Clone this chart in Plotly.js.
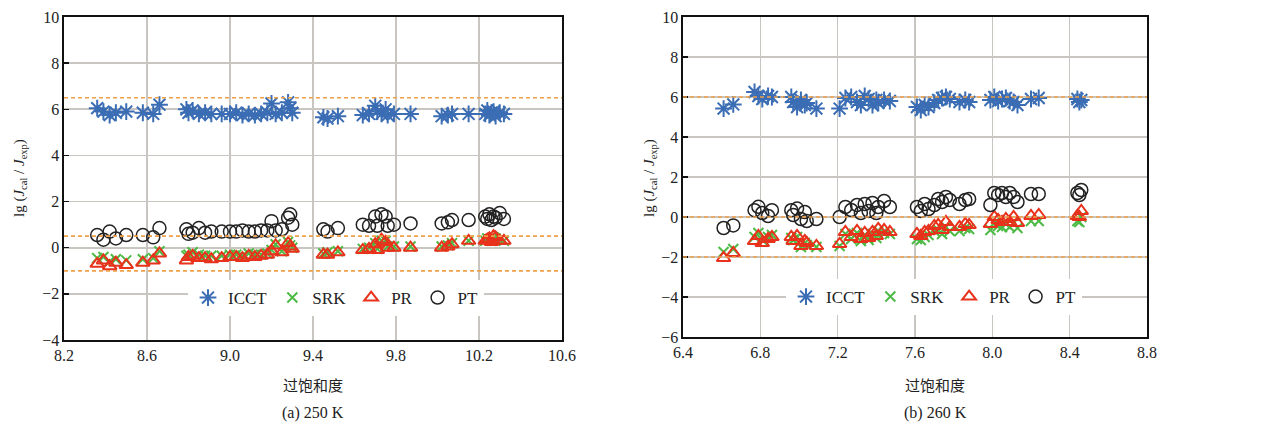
<!DOCTYPE html>
<html>
<head>
<meta charset="utf-8">
<script src="https://cdn.plot.ly/plotly-3.0.1.min.js"></script>
<style>
html,body{margin:0;padding:0;background:#fff;}
#chart{width:1271px;height:434px;}
</style>
</head>
<body>
<div id="chart"></div>
<script>
// ---------- data ----------
const seriesNames = ['ICCT', 'SRK', 'PR', 'PT'];

// (a) 250 K
const xA = [8.36, 8.39, 8.42, 8.45, 8.50, 8.58, 8.63, 8.66,
  8.79, 8.80, 8.82, 8.85, 8.88, 8.91, 8.96, 9.00, 9.03, 9.06, 9.09, 9.12, 9.15, 9.18, 9.20, 9.22, 9.25, 9.28, 9.29, 9.30,
  9.45, 9.47, 9.52,
  9.64, 9.67, 9.70, 9.71, 9.73, 9.75, 9.76, 9.79,
  9.87,
  10.02, 10.05, 10.07,
  10.15,
  10.23, 10.24, 10.25, 10.26, 10.27, 10.28, 10.30, 10.32];
const icctA = [6.05, 5.9, 5.75, 5.85, 5.9, 5.85, 5.8, 6.2,
  6.0, 5.85, 5.95, 5.8, 5.85, 5.8, 5.8, 5.8, 5.85, 5.75, 5.8, 5.75, 5.8, 5.85, 6.25, 5.8, 5.85, 6.3, 6.05, 5.85,
  5.65, 5.6, 5.7,
  5.75, 5.8, 6.15, 5.9, 5.8, 6.0, 5.75, 5.8,
  5.8,
  5.7, 5.75, 5.8,
  5.8,
  5.8, 5.95, 5.75, 5.85, 5.9, 5.7, 5.85, 5.8];
const srkA = [-0.45, -0.4, -0.6, -0.5, -0.55, -0.5, -0.45, -0.15,
  -0.35, -0.3, -0.2, -0.3, -0.35, -0.35, -0.35, -0.3, -0.3, -0.35, -0.25, -0.3, -0.3, -0.25, -0.1, 0.15, -0.15, 0.25, 0.1, 0.0,
  -0.25, -0.2, -0.15,
  -0.05, 0.0, 0.2, -0.05, 0.3, 0.3, 0.05, 0.05,
  0.05,
  0.05, 0.1, 0.2,
  0.3,
  0.3, 0.4, 0.35, 0.3, 0.45, 0.4, 0.35, 0.3];
const prA = [-0.7, -0.55, -0.8, -0.65, -0.75, -0.65, -0.55, -0.25,
  -0.55, -0.4, -0.35, -0.45, -0.45, -0.5, -0.45, -0.4, -0.4, -0.45, -0.35, -0.4, -0.35, -0.3, -0.15, 0.1, -0.2, 0.2, 0.05, -0.05,
  -0.3, -0.3, -0.2,
  -0.1, -0.05, 0.15, -0.1, 0.35, 0.25, 0.0, 0.0,
  0.0,
  0.0, 0.05, 0.15,
  0.3,
  0.3, 0.35, 0.4, 0.25, 0.5, 0.45, 0.3, 0.3];
const ptA = [0.55, 0.35, 0.7, 0.4, 0.55, 0.55, 0.45, 0.85,
  0.8, 0.6, 0.65, 0.85, 0.65, 0.7, 0.7, 0.7, 0.7, 0.75, 0.7, 0.7, 0.75, 0.75, 1.15, 0.75, 0.8, 1.3, 1.45, 1.0,
  0.8, 0.7, 0.85,
  1.0, 0.95, 1.35, 0.95, 1.45, 1.35, 0.95, 1.0,
  1.05,
  1.05, 1.1, 1.2,
  1.2,
  1.35, 1.25, 1.45, 1.2, 1.35, 1.3, 1.5, 1.25];
const refLinesA = [6.5, 0.5, -1.0];

// (b) 260 K
const xB = [6.61, 6.66,
  6.77, 6.79, 6.81, 6.84, 6.86,
  6.96, 6.97, 6.99, 7.01, 7.03, 7.04, 7.09,
  7.21, 7.24, 7.27, 7.30, 7.32, 7.34, 7.36, 7.38, 7.40, 7.41, 7.44, 7.47,
  7.61, 7.63, 7.65, 7.67, 7.70, 7.72, 7.74, 7.76, 7.78,
  7.83, 7.86, 7.88,
  7.99, 8.01, 8.03, 8.05, 8.07, 8.09, 8.11, 8.13,
  8.20, 8.24,
  8.44, 8.45, 8.46];
const icctB = [5.42, 5.63,
  6.25, 6.05, 5.9, 6.05, 6.0,
  6.0, 5.75, 5.5, 5.85, 5.6, 5.7, 5.42,
  5.42, 5.95, 6.0, 5.75, 5.6, 6.05, 5.9, 5.6, 5.85, 5.7, 5.85, 5.8,
  5.5, 5.35, 5.6, 5.5, 5.7, 5.85, 5.95, 6.0, 5.9,
  5.75, 5.85, 5.75,
  5.85, 6.0, 5.8, 5.9, 5.95, 5.8, 5.75, 5.6,
  5.9, 5.95,
  5.9, 5.75, 5.85];
const srkB = [-1.75, -1.6,
  -1.0, -0.8, -1.15, -1.0, -0.9,
  -1.05, -1.15, -1.0, -1.5, -1.3, -1.4, -1.5,
  -1.45, -0.85, -1.1, -0.8, -1.2, -0.9, -1.15, -0.85, -1.05, -0.7, -0.8, -0.85,
  -1.1, -1.15, -1.0, -0.9, -0.7, -0.65, -0.85, -0.5, -0.7,
  -0.7, -0.55, -0.6,
  -0.65, -0.3, -0.45, -0.5, -0.35, -0.5, -0.3, -0.55,
  -0.2, -0.2,
  -0.2, -0.25, 0.0];
const prB = [-2.05, -1.8,
  -1.2, -0.95, -1.3, -1.1, -1.0,
  -1.0, -1.2, -0.95, -1.45, -1.2, -1.3, -1.45,
  -1.35, -0.75, -1.0, -0.7, -1.1, -0.8, -1.05, -0.75, -0.95, -0.6, -0.65, -0.75,
  -0.85, -0.95, -0.75, -0.7, -0.45, -0.4, -0.65, -0.25, -0.5,
  -0.5, -0.35, -0.4,
  -0.35, 0.0, -0.15, -0.25, -0.1, -0.25, 0.0, -0.3,
  0.05, 0.1,
  0.05, 0.0, 0.3];
const ptB = [-0.55, -0.42,
  0.34, 0.51, 0.2, 0.05, 0.34,
  0.34, 0.1, 0.42, -0.1, 0.25, -0.2, -0.1,
  0.0, 0.5, 0.35, 0.6, 0.2, 0.65, 0.3, 0.7, 0.2, 0.5, 0.8, 0.5,
  0.5, 0.3, 0.65, 0.4, 0.6, 0.9, 0.75, 1.0, 0.85,
  0.65, 0.85, 0.9,
  0.6, 1.2, 1.1, 1.2, 1.0, 1.2, 1.0, 0.75,
  1.15, 1.15,
  1.2, 1.1, 1.35];
const refLinesB = [6.0, 0.0, -2.0];

// ---------- styling ----------
const serif = 'Liberation Serif';
const cjk = 'Noto Sans CJK SC';
const markerStyles = [
  {symbol: 'asterisk-open', size: 14, color: '#3b6db4', line: {color: '#3b6db4', width: 2}},
  {symbol: 'x-thin-open', size: 10, color: '#4cba45', line: {color: '#4cba45', width: 2}},
  {symbol: 'triangle-up-open', size: 12, color: '#e8321c', line: {color: '#e8321c', width: 2}},
  {symbol: 'circle-open', size: 13, color: '#222222', line: {color: '#222222', width: 1.5}}
];

function makeTraces(x, ys, xa, ya, legendId) {
  return ys.map((y, i) => ({
    type: 'scatter', mode: 'markers', x: x, y: y,
    xaxis: xa, yaxis: ya, name: seriesNames[i], legend: legendId,
    marker: markerStyles[i], cliponaxis: false
  }));
}

const data = [].concat(
  makeTraces(xA, [icctA, srkA, prA, ptA], 'x', 'y', 'legend'),
  makeTraces(xB, [icctB, srkB, prB, ptB], 'x2', 'y2', 'legend2')
);

const W = 1271, H = 434;
const px = v => v / W, py = v => 1 - v / H;

function xax(domain, range, anchor) {
  return {
    domain: domain, range: range, dtick: 0.4, tick0: range[0], tickformat: '.1f', anchor: anchor,
    showgrid: true, gridcolor: '#c9c5c1', gridwidth: 1.6,
    showline: true, mirror: true, linecolor: '#111', linewidth: 1.6,
    ticks: '', zeroline: false,
    tickfont: {family: serif, size: 16, color: '#222'}, automargin: false
  };
}
function yax(domain, range, anchor) {
  return {
    domain: domain, range: range, dtick: 2, tick0: 0, anchor: anchor,
    showgrid: true, gridcolor: '#c9c5c1', gridwidth: 1.6,
    showline: true, mirror: true, linecolor: '#111', linewidth: 1.6,
    ticks: 'inside', ticklen: 5, tickcolor: '#111', tickwidth: 1.5, zeroline: false,
    tickfont: {family: serif, size: 16, color: '#222'}, automargin: false
  };
}

const shapes = [];
refLinesA.forEach(v => shapes.push({type: 'line', xref: 'x', yref: 'y', x0: 8.2, x1: 10.6, y0: v, y1: v,
  line: {color: '#f0a048', width: 1.7, dash: '4px,3px'}, layer: 'above'}));
refLinesB.forEach(v => shapes.push({type: 'line', xref: 'x2', yref: 'y2', x0: 6.4, x1: 8.8, y0: v, y1: v,
  line: {color: '#f0a048', width: 1.7, dash: '4px,3px'}, layer: 'above'}));

function ann(text, x, y, font, extra) {
  return Object.assign({text: text, x: px(x), y: py(y), xref: 'paper', yref: 'paper',
    xanchor: 'center', yanchor: 'middle', showarrow: false, font: font}, extra || {});
}
const yTitle = 'lg (<i>J</i><sub>cal</sub> / <i>J</i><sub>exp</sub>)';
const annotations = [
  ann(yTitle, 20, 178, {family: serif, size: 15, color: '#222'}, {textangle: -90}),
  ann(yTitle, 650, 178, {family: serif, size: 15, color: '#222'}, {textangle: -90}),
  ann('过饱和度', 313, 384, {family: cjk, size: 15, color: '#222'}),
  ann('过饱和度', 935, 384, {family: cjk, size: 15, color: '#222'}),
  ann('(a) 250 K', 313, 413, {family: serif, size: 16, color: '#222'}),
  ann('(b) 260 K', 935, 413, {family: serif, size: 16, color: '#222'})
];

const legendBase = {
  orientation: 'h', xanchor: 'center', yanchor: 'middle', bgcolor: '#ffffff',
  font: {family: serif, size: 17, color: '#222'}, itemwidth: 30,
  xref: 'paper', yref: 'paper'
};

const layout = {
  width: W, height: H,
  margin: {l: 0, r: 0, t: 0, b: 0},
  paper_bgcolor: '#ffffff', plot_bgcolor: '#ffffff',
  showlegend: true,
  xaxis: xax([px(64), px(562)], [8.2, 10.6], 'y'),
  yaxis: yax([py(340), py(17)], [-4, 10], 'x'),
  xaxis2: xax([px(683), px(1147)], [6.4, 8.8], 'y2'),
  yaxis2: yax([py(337), py(17)], [-6, 10], 'x2'),
  legend: Object.assign({}, legendBase, {x: px(336), y: py(298)}),
  legend2: Object.assign({}, legendBase, {x: px(934), y: py(297)}),
  shapes: shapes,
  annotations: annotations
};

Plotly.newPlot('chart', data, layout, {displayModeBar: false, staticPlot: true});
</script>
</body>
</html>
